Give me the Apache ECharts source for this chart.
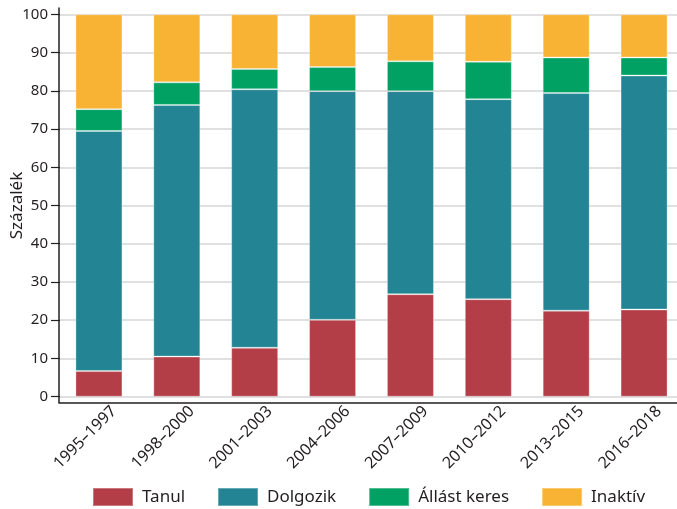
<!DOCTYPE html>
<html>
<head>
<meta charset="utf-8">
<script src="https://cdn.jsdelivr.net/npm/echarts@6/dist/echarts.min.js"></script>
<style>
  html, body { margin: 0; padding: 0; background: #fff; }
  #chart { width: 677px; height: 509px; }
</style>
</head>
<body>
<div id="chart"></div>
<script>
var periods = ['1995–1997', '1998–2000', '2001–2003', '2004–2006', '2007–2009', '2010–2012', '2013–2015', '2016–2018'];
var tanul = [6.7, 10.5, 12.8, 20.1, 26.8, 25.5, 22.5, 22.8];
var dolgozik = [62.8, 65.8, 67.6, 59.8, 53.1, 52.3, 56.9, 61.2];
var allastKeres = [5.7, 5.9, 5.3, 6.3, 7.8, 9.8, 9.3, 4.7];
var inaktiv = [24.8, 17.8, 14.3, 13.8, 12.3, 12.4, 11.3, 11.3];

var font = 'Noto Sans';
var textColor = '#231f20';

function barSeries(name, data, color) {
  return {
    name: name,
    type: 'bar',
    stack: 'total',
    barWidth: 47,
    xAxisIndex: 0,
    yAxisIndex: 0,
    itemStyle: { color: color, borderColor: 'rgba(255,255,255,0.3)', borderWidth: 1 },
    data: data
  };
}

var option = {
  backgroundColor: '#fff',
  animation: false,
  textStyle: { fontFamily: font },
  grid: [
    // bars
    { left: 60, right: -6, top: 14.3, height: 382.4, outerBoundsMode: 'none', containLabel: false },
    // axis lines
    { left: 59, right: 0, top: 8, bottom: 106.5, outerBoundsMode: 'none', containLabel: false },
    // shifted category labels
    { left: 75, right: -21, top: 14.3, height: 382.4, outerBoundsMode: 'none', containLabel: false }
  ],
  legend: {
    left: 87,
    top: 482,
    icon: 'rect',
    itemWidth: 40,
    itemHeight: 18,
    itemGap: 32,
    textStyle: { fontSize: 17, color: textColor, fontFamily: font, padding: [0, 0, 0, 4] },
    data: ['Tanul', 'Dolgozik', 'Állást keres', 'Inaktív']
  },
  xAxis: [
    {
      gridIndex: 0,
      type: 'category',
      data: periods,
      axisLine: { show: false },
      axisTick: { show: false },
      axisLabel: { show: false }
    },
    {
      gridIndex: 1,
      type: 'value',
      min: 0,
      max: 1,
      axisLine: { show: true, lineStyle: { color: textColor, width: 1.5 } },
      axisTick: { show: false },
      axisLabel: { show: false },
      splitLine: { show: false }
    },
    {
      gridIndex: 2,
      type: 'category',
      data: periods,
      axisLine: { show: false },
      axisTick: { show: false },
      axisLabel: { rotate: 45, margin: 12, fontSize: 16, color: textColor, fontFamily: font, interval: 0 }
    }
  ],
  yAxis: [
    {
      gridIndex: 0,
      type: 'value',
      min: 0,
      max: 100,
      interval: 10,
      name: 'Százalék',
      nameLocation: 'middle',
      nameGap: 34,
      nameMoveOverlap: false,
      nameTextStyle: { fontSize: 17, color: textColor, fontFamily: font },
      axisLine: { show: false },
      axisTick: { show: true, length: 9, lineStyle: { color: textColor, width: 1.2 } },
      axisLabel: { margin: 12, fontSize: 15, color: textColor, fontFamily: font },
      splitLine: { show: true, lineStyle: { color: '#d6d6d6', width: 1.5 } }
    },
    {
      gridIndex: 1,
      type: 'value',
      min: 0,
      max: 1,
      axisLine: { show: true, lineStyle: { color: textColor, width: 1.5 } },
      axisTick: { show: false },
      axisLabel: { show: false },
      splitLine: { show: false }
    },
    {
      gridIndex: 2,
      type: 'value',
      min: 0,
      max: 100,
      show: false
    }
  ],
  series: [
    barSeries('Tanul', tanul, '#b43e47'),
    barSeries('Dolgozik', dolgozik, '#238493'),
    barSeries('Állást keres', allastKeres, '#00a163'),
    barSeries('Inaktív', inaktiv, '#f8b335')
  ]
};

var myChart = echarts.init(document.getElementById('chart'));
myChart.setOption(option);
</script>
</body>
</html>
